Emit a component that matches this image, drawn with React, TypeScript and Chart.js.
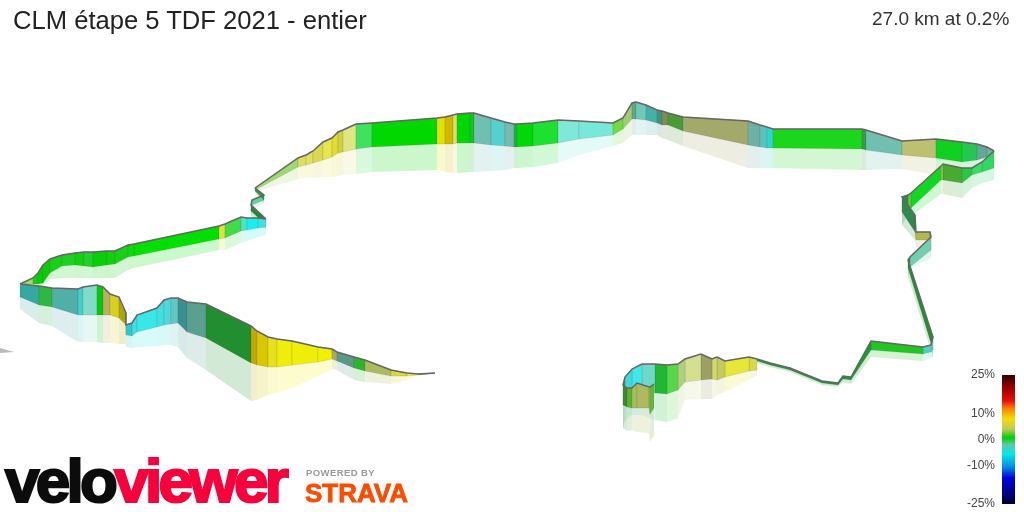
import React, { useEffect, useRef } from "react";
import { Chart, registerables } from "chart.js";

Chart.register(...registerables);

const titleText = "CLM étape 5 TDF 2021 - entier";
const summaryText = "27.0 km at 0.2%";

// Ribbon sections, in drawing order (far to near). Each has the route position,
// wall top, wall foot, reflection foot, and the colour of the segment to the next point.
const northX = [255, 298, 306, 313, 323, 332, 338, 343, 356, 372, 437, 445, 453, 457, 470, 474, 491, 505, 514, 517, 533, 558, 579, 613, 623, 632, 636, 646, 657, 662, 668, 683, 748, 760, 767, 773, 862, 866, 902, 936, 962, 977, 987, 994];
const northTop = [188, 158, 155, 151, 142, 138, 132, 130, 124, 123, 118, 117, 115, 114, 113, 113, 118, 122, 124, 124, 123, 120, 121, 123, 118, 103, 102, 105, 110, 111, 113, 117, 121, 125, 127, 129, 129, 130, 141, 139, 142, 144, 147, 151];
const northFoot = [190, 167, 165, 163, 160, 157, 153, 152, 149, 147, 144, 144, 144, 143, 143, 143, 145, 146, 147, 147, 146, 143, 139, 135, 129, 119, 119, 120, 123, 125, 125, 131, 145, 147, 148, 148, 149, 150, 155, 158, 162, 160, 157, 155];
const northMirror = [192, 179, 178, 178, 177, 177, 176, 175, 174, 172, 170, 172, 173, 173, 172, 172, 171, 170, 168, 168, 167, 163, 155, 146, 143, 135, 135, 135, 135, 138, 140, 146, 168, 168, 168, 168, 170, 170, 169, 175, 178, 172, 165, 160];
const northColor = ["#a0d870", "#dce060", "#e0e060", "#dcd850", "#e6e650", "#e0dc30", "#d0d040", "#dde680", "#40e060", "#00d800", "#e6e000", "#d0b800", "#dcdc70", "#00d700", "#18c020", "#70bfb0", "#55d0cc", "#78b8b0", "#20b040", "#00d80a", "#1ee030", "#80e8d8", "#78e8d8", "#6edc40", "#a0cc70", "#60a888", "#70c8b8", "#45b0a8", "#458f80", "#7a8f50", "#4a9a38", "#a3a96a", "#6fb0a4", "#5ac4bc", "#30d4d0", "#1cd61c", "#3a9a50", "#70bfb0", "#bcc070", "#10d020", "#22c850", "#60a898", "#70b0a8"];

const zigX = [266, 251, 252, 264, 255];
const zigTop = [219, 205, 200, 195, 188];
const zigFoot = [225, 211, 205, 200, 191];
const zigMirror = [230, 216, 210, 203, 193];
const zigColor = ["#1f8a30", "#2a8a3a", "#60d0a0", "#2f9a40"];

const westX = [20, 33, 38, 43, 50, 62, 75, 84, 93, 107, 115, 128, 134, 219, 225, 241, 247, 258, 266];
const westTop = [284, 278, 273, 265, 259, 255, 253, 252, 252, 251, 251, 245, 244, 226, 224, 217, 218, 218, 219];
const westFoot = [284, 284, 284, 283, 273, 266, 265, 266, 267, 265, 264, 257, 256, 239, 238, 231, 230, 228, 227];
const westMirror = [284, 285, 286, 286, 279, 278, 278, 278, 278, 278, 278, 270, 268, 250, 250, 243, 241, 237, 235];
const westColor = ["#98e060", "#10d010", "#00d000", "#10c810", "#18d018", "#20d020", "#10d010", "#20d030", "#08d008", "#10d010", "#18d018", "#10d810", "#00e000", "#e0e040", "#44dc44", "#50e0d0", "#18f0f0", "#40e0e0"];

const southX = [20, 39, 52, 78, 83, 97, 103, 110, 119, 126, 126, 132, 137, 157, 164, 171, 178, 187, 206, 251, 257, 268, 277, 292, 318, 332, 337, 354, 365, 391, 407, 418, 435];
const southTop = [284, 286, 288, 289, 287, 285, 287, 294, 297, 313, 325, 323, 315, 308, 300, 298, 298, 302, 304, 326, 331, 337, 339, 341, 347, 349, 352, 357, 360, 370, 373, 374, 373];
const southFoot = [297, 305, 307, 315, 315, 315, 315, 315, 318, 325, 335, 336, 332, 327, 325, 324, 323, 332, 338, 363, 365, 367, 367, 365, 362, 359, 361, 368, 371, 376, 376, 375, 373.5];
const southMirror = [309, 323, 326, 342, 342, 342, 343, 343, 344, 344, 347, 348, 347, 346, 345, 345, 347, 358, 370, 401, 400, 395, 393, 388, 376, 369, 370, 380, 382, 384, 380, 375, 373.5];
const southColor = ["#35a8a0", "#2fb840", "#4fb0a8", "#40d0c8", "#80dcc8", "#08c808", "#b8b060", "#d8d020", "#a8a800", "#808000", "#30c8c8", "#40e0e0", "#38e8e8", "#40e0e0", "#50d8d8", "#60c8c0", "#3a9090", "#5aa090", "#1f8f2f", "#c4a800", "#d8c800", "#e6e020", "#eeee08", "#eeee08", "#f2f200", "#a9a86a", "#5a9a85", "#2cb52c", "#adba60", "#d8d83c", "#eef030", "#2cb52c"];

const eastX = [994, 982, 972, 962, 943, 941, 911, 908, 902, 915, 916, 930, 931, 910, 908, 933, 931, 923, 871, 851, 843, 838, 822, 790, 770, 757];
const eastTop = [151, 162, 168, 168, 164, 166, 193, 195, 197, 215, 232, 232, 237, 257, 260, 337, 345, 347, 341, 377, 376, 383, 381, 368, 363, 359];
const eastFoot = [168, 172, 175, 183, 180, 180, 208, 207, 212, 232, 240, 240, 250, 267, 268, 350, 352, 354, 350, 380, 379, 385, 383, 370, 365, 361];
const eastMirror = [180, 183, 188, 198, 194, 194, 216, 215, 225, 240, 247, 247, 258, 268, 277, 357, 358, 361, 357, 384, 382, 387, 385, 372, 367, 363];
const eastColor = ["#30d860", "#38dc60", "#28c840", "#48aa30", "#b0b860", "#10d820", "#70c040", "#2f8a4a", "#2f8a4a", "#b0b850", "#b0b850", "#80c0a0", "#70d0b0", "#2f8f3a", "#1f8f2f", "#60d0c8", "#50d0c0", "#22c522", "#1f9a30", "#1f9a30", "#1f9a30", "#1f9a30", "#1f9a30", "#1f9a30", "#1f9a30"];

const endX = [757, 749, 725, 717, 712, 701, 685, 678, 667, 655, 642, 632, 625, 623, 627, 632, 637, 649, 650, 654];
const endTop = [359, 357, 361, 357, 359, 354, 359, 364, 365, 364, 364, 369, 377, 385, 388, 388, 383, 387, 387, 384];
const endFoot = [370, 371, 377, 380, 379, 380, 382, 390, 394, 393, 391, 392, 400, 405, 407, 408, 408, 408, 414, 408];
const endMirror = [375, 380, 392, 395, 399, 399, 400, 418, 422, 420, 415, 415, 420, 428, 431, 430, 432, 433, 442, 435];
const endColor = ["#d8d850", "#e6e838", "#c6c860", "#d0d870", "#9ca060", "#d4e090", "#b0d080", "#58d848", "#20b830", "#70d8c8", "#40e8e8", "#40d8d8", "#3a9a30", "#3a8a30", "#60b030", "#a0c060", "#b0b860", "#b0b860", "#60b840"];

const strayX = [0, 14, 0];
const strayY = [348, 352, 353];

const legendTicks = [25, 10, 0, -10, -25];
const legendStopPos = [0, 0.12, 0.2, 0.26, 0.34, 0.42, 0.486, 0.54, 0.615, 0.71, 0.8, 0.92, 1];
const legendStopColor = ["#330000", "#b00000", "#e8100a", "#ff8000", "#f0e000", "#c0c860", "#00d000", "#60c8a8", "#00e8e8", "#0090e0", "#0000e0", "#000080", "#000030"];

type Section = { x: number[]; top: number[]; foot: number[]; mirror: number[]; color: string[] };
const sections: Section[] = [
  { x: northX, top: northTop, foot: northFoot, mirror: northMirror, color: northColor },
  { x: zigX, top: zigTop, foot: zigFoot, mirror: zigMirror, color: zigColor },
  { x: westX, top: westTop, foot: westFoot, mirror: westMirror, color: westColor },
  { x: southX, top: southTop, foot: southFoot, mirror: southMirror, color: southColor },
  { x: eastX, top: eastTop, foot: eastFoot, mirror: eastMirror, color: eastColor },
  { x: endX, top: endTop, foot: endFoot, mirror: endMirror, color: endColor },
];

function polygon(xa: number, ya1: number, ya2: number, xb: number, yb1: number, yb2: number) {
  return [
    { x: xa, y: ya1 },
    { x: xb, y: yb1 },
    { x: xb, y: yb2 },
    { x: xa, y: ya2 },
  ];
}

function buildDatasets() {
  const list: any[] = [];
  const poly = (data: any[], fill: string, edge: string | null) =>
    list.push({ type: "line", data, polyFill: fill, polyEdge: edge, showLine: false, pointRadius: 0, fill: false, borderWidth: 0 });
  poly(strayX.map((x, i) => ({ x, y: strayY[i] })), "#bbbbbb", null);
  for (const s of sections) {
    for (let i = 0; i < s.color.length; i++) {
      poly(polygon(s.x[i], s.foot[i], s.mirror[i], s.x[i + 1], s.foot[i + 1], s.mirror[i + 1]), s.color[i] + "33", null);
    }
    for (let i = 0; i < s.color.length; i++) {
      poly(polygon(s.x[i], s.top[i], s.foot[i], s.x[i + 1], s.top[i + 1], s.foot[i + 1]), s.color[i], "rgba(50,50,50,0.12)");
    }
    list.push({
      type: "line",
      data: s.x.map((x, i) => ({ x, y: s.top[i] })),
      borderColor: "#666666",
      borderWidth: 1.5,
      pointRadius: 0,
      fill: false,
      tension: 0,
    });
  }
  list.forEach((d, i) => (d.order = list.length - i));
  return list;
}

const polygonFill = {
  id: "polygonFill",
  beforeDatasetDraw(chart: any, args: any) {
    const ds = chart.data.datasets[args.index];
    if (!ds.polyFill) return;
    const pts = args.meta.data;
    const ctx = chart.ctx;
    ctx.save();
    ctx.beginPath();
    pts.forEach((p: any, i: number) => (i ? ctx.lineTo(p.x, p.y) : ctx.moveTo(p.x, p.y)));
    ctx.closePath();
    ctx.fillStyle = ds.polyFill;
    ctx.fill();
    if (ds.polyEdge) {
      ctx.strokeStyle = ds.polyEdge;
      ctx.lineWidth = 1;
      ctx.stroke();
    }
    ctx.restore();
  },
};

const abs = (left: number, top: number, extra: React.CSSProperties): React.CSSProperties => ({
  position: "absolute",
  left,
  top,
  whiteSpace: "nowrap",
  fontFamily: "'Liberation Sans', sans-serif",
  ...extra,
});

export default function App() {
  const mainRef = useRef<HTMLCanvasElement>(null);
  const legendRef = useRef<HTMLCanvasElement>(null);

  useEffect(() => {
    const main = new Chart(mainRef.current as HTMLCanvasElement, {
      type: "line",
      data: { datasets: buildDatasets() },
      plugins: [polygonFill],
      options: {
        animation: false,
        responsive: false,
        parsing: false as any,
        normalized: false,
        spanGaps: true,
        layout: { padding: 0 },
        plugins: { legend: { display: false }, tooltip: { enabled: false }, title: { display: false } },
        scales: {
          x: { type: "linear", min: 0, max: 1024, display: false },
          y: { type: "linear", min: 0, max: 512, reverse: true, display: false },
        },
      },
    } as any);

    const legend = new Chart(legendRef.current as HTMLCanvasElement, {
      type: "bar",
      data: {
        labels: ["grade"],
        datasets: [
          {
            data: [[-25, 25]],
            barPercentage: 1,
            categoryPercentage: 1,
            backgroundColor: (c: any) => {
              const area = c.chart.chartArea;
              if (!area) return "#000";
              const g = c.chart.ctx.createLinearGradient(0, area.top, 0, area.bottom);
              legendStopPos.forEach((p, i) => g.addColorStop(p, legendStopColor[i]));
              return g;
            },
          },
        ],
      },
      options: {
        animation: false,
        responsive: false,
        layout: { padding: { top: 10, bottom: 9, right: 1, left: 0 } },
        plugins: { legend: { display: false }, tooltip: { enabled: false } },
        scales: {
          x: { display: false },
          y: {
            min: -25,
            max: 25,
            border: { display: false },
            grid: { display: false },
            afterBuildTicks: (axis: any) => {
              axis.ticks = legendTicks.map((value) => ({ value }));
            },
            afterFit: (axis: any) => {
              axis.width = 42;
              axis.paddingTop = 0;
              axis.paddingBottom = 0;
            },
            ticks: {
              padding: -1,
              color: "#444444",
              font: { family: "'Liberation Sans', sans-serif", size: 12 },
              callback: (v: any) => `${v}%`,
            },
          },
        },
      },
    } as any);

    return () => {
      main.destroy();
      legend.destroy();
    };
  }, []);

  return (
    <div style={{ position: "absolute", left: 0, top: 0, width: 1024, height: 512, overflow: "hidden", background: "#fff" }}>
      <canvas ref={mainRef} width={1024} height={512} style={{ position: "absolute", left: 0, top: 0 }} />
      <canvas ref={legendRef} width={56} height={148} style={{ position: "absolute", left: 960, top: 365 }} />
      <div style={abs(13, 5, { fontSize: 25.6, color: "#222", lineHeight: "30px" })}>{titleText}</div>
      <div style={abs(872, 8, { fontSize: 19, color: "#333", lineHeight: "22px" })}>{summaryText}</div>
      <div style={abs(5, 445, { fontSize: 62, fontWeight: 700, letterSpacing: -3.7, lineHeight: "72px", WebkitTextStroke: "2.2px currentColor", color: "#0c0c0c" })}>
        velo<span style={{ color: "#f8003c" }}>viewer</span>
      </div>
      <div style={abs(306, 467, { fontSize: 9.5, fontWeight: 700, letterSpacing: 0.4, lineHeight: "12px", color: "#999" })}>POWERED BY</div>
      <div style={abs(305, 478, { fontSize: 26, fontWeight: 700, lineHeight: "30px", color: "#fc4c02", WebkitTextStroke: "0.8px #fc4c02" })}>STRAVA</div>
    </div>
  );
}
